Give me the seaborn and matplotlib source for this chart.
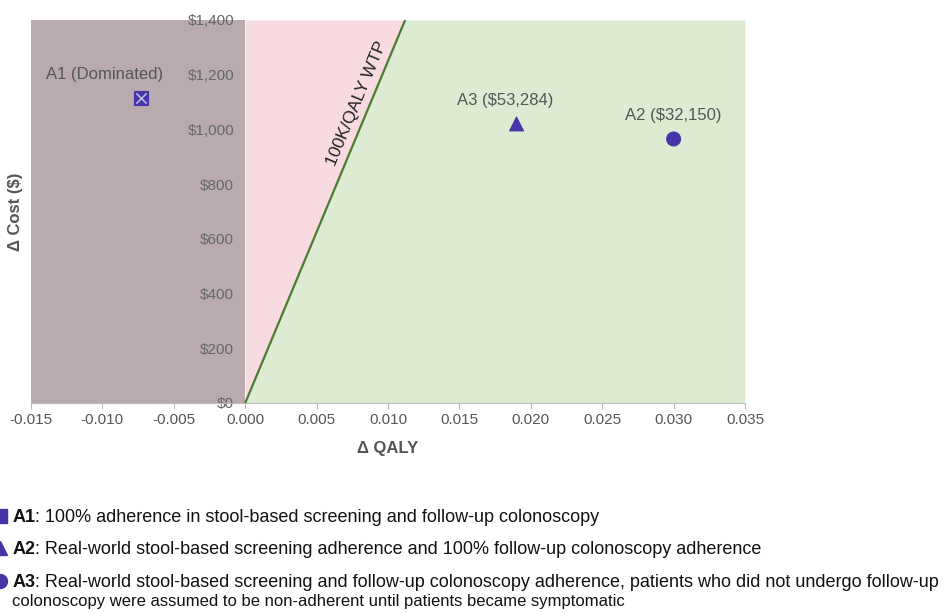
import numpy as np
import pandas as pd
import matplotlib
matplotlib.use('Agg')
import matplotlib.pyplot as plt
import seaborn as sns

strategies = ['A1', 'A2', 'A3']
d_qaly = [-0.0073, 0.030, 0.019]
d_cost = [1115, 965, 1020]
point_labels = ['A1 (Dominated)', 'A2 ($32,150)', 'A3 ($53,284)']

wtp_x = [0.0, 0.0112]
wtp_y = [0, 1400]

x_ticks = [-0.015, -0.010, -0.005, 0.000, 0.005, 0.010, 0.015, 0.020, 0.025, 0.030, 0.035]
y_ticks = [0, 200, 400, 600, 800, 1000, 1200, 1400]
y_tick_labels = ['$0', '$200', '$400', '$600', '$800', '$1,000', '$1,200', '$1,400']

notes = [
    ('A1', ': 100% adherence in stool-based screening and follow-up colonoscopy'),
    ('A2', ': Real-world stool-based screening adherence and 100% follow-up colonoscopy adherence'),
    ('A3', ': Real-world stool-based screening and follow-up colonoscopy adherence, patients who did not undergo follow-up'),
]
note_extra = 'colonoscopy were assumed to be non-adherent until patients became symptomatic'

sns.set_style('white')
plt.rcParams['font.family'] = ['Liberation Sans', 'DejaVu Sans']

df = pd.DataFrame({'strategy': strategies, 'qaly': d_qaly, 'cost': d_cost})
mark_col = '#4635a6'

fig = plt.figure(figsize=(9.45, 6.13), dpi=100)
ax = fig.add_axes([0.0328, 0.3426, 0.7556, 0.6248])
ax.set_xlim(x_ticks[0], x_ticks[-1])
ax.set_ylim(y_ticks[0], y_ticks[-1])

# quadrant shading
ax.axvspan(x_ticks[0], 0, color='#b8aaaf', zorder=0, lw=0)
ax.fill_between(wtp_x + [x_ticks[-1]], [0, 1400, 1400], [0, 0, 0], color='#dcebd2', zorder=0, lw=0)
ax.fill_between([0, wtp_x[1]], wtp_y, [1400, 1400], color='#f8dbe0', zorder=0, lw=0)
ax.plot(wtp_x, wtp_y, color='#4d7a2e', lw=1.6, zorder=1)

sns.scatterplot(data=df, x='qaly', y='cost', style='strategy',
                markers={'A1': 's', 'A2': 'o', 'A3': '^'},
                color=mark_col, s=100, edgecolor=mark_col, legend=False, ax=ax, zorder=3)
a1 = df[df['strategy'] == 'A1']
ax.scatter(a1['qaly'], a1['cost'], marker='x', s=55, color='#b9b4e6', lw=1.2, zorder=4)

offsets = {'A1': (-26, 17), 'A2': (0, 17), 'A3': (-8, 17)}
for s, x, y, lab in zip(strategies, d_qaly, d_cost, point_labels):
    ax.annotate(lab, (x, y), xytext=offsets[s], textcoords='offset points',
                ha='center', va='center', fontsize=12, color='#555555')

# WTP label along the line
p0 = ax.transData.transform((wtp_x[0], wtp_y[0]))
p1 = ax.transData.transform((wtp_x[1], wtp_y[1]))
ang = np.degrees(np.arctan2(p1[1] - p0[1], p1[0] - p0[0]))
frac = 1078 / wtp_y[1]
lx, ly = wtp_x[1] * frac, wtp_y[1] * frac
nx, ny = -np.sin(np.radians(ang)), np.cos(np.radians(ang))
ax.annotate('100K/QALY WTP', (lx, ly), xytext=(nx * 4, ny * 4), textcoords='offset points',
            rotation=ang, rotation_mode='anchor', ha='center', va='bottom',
            fontsize=12.5, color='#222222')

ax.set_xticks(x_ticks)
ax.set_xticklabels(['%.3f' % t for t in x_ticks])
ax.set_yticks(y_ticks)
ax.set_yticklabels(y_tick_labels)
ax.spines['left'].set_position(('data', 0))
ax.spines['left'].set_visible(False)
ax.spines['top'].set_visible(False)
ax.spines['right'].set_visible(False)
ax.spines['bottom'].set_color('#bbbbbb')
ax.tick_params(axis='x', length=4, color='#bbbbbb', labelcolor='#555555', labelsize=11, bottom=True)
ax.tick_params(axis='y', length=0, labelcolor='#666666', labelsize=11, pad=8)
ax.set_ylabel('')
ax.set_xlabel('Δ QALY', fontsize=12, fontweight='bold', color='#555555', labelpad=10)
fig.text(0.016, 0.654, 'Δ Cost ($)', rotation=90, ha='center', va='center',
         fontsize=12, fontweight='bold', color='#555555')

# footnotes
note_y = [0.148, 0.096, 0.043]
note_marks = ['s', '^', 'o']
for (key, rest), yy, mk in zip(notes, note_y, note_marks):
    fig.lines.append(plt.Line2D([0.0], [yy + 0.01], marker=mk, ms=10, color=mark_col,
                                transform=fig.transFigure, figure=fig))
    b = fig.text(0.013, yy, key, fontsize=13, fontweight='bold', color='#111111', va='baseline')
    ax.annotate(rest, xy=(1, 0), xycoords=b, va='bottom', ha='left',
                fontsize=13, color='#111111', annotation_clip=False)
fig.text(0.013, 0.012, note_extra, fontsize=12, color='#111111', va='baseline')

fig.savefig('out.png', dpi=100)
